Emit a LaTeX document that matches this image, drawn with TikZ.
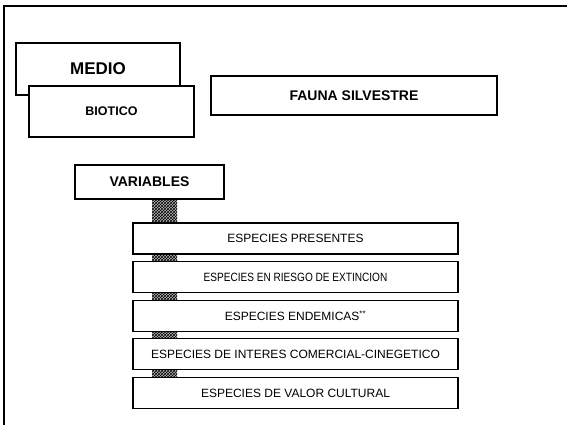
\documentclass[tikz,border=0pt]{standalone}
\usepackage{fontspec}
\setmainfont{Liberation Sans}
\usetikzlibrary{positioning,patterns,backgrounds,calc}

\begin{document}
\begin{tikzpicture}[
    x=1pt, y=-1pt,
    node distance=6.5pt and 6.5pt,
    box/.style={draw, line width=1.1pt, fill=white, inner sep=0pt},
    item/.style={draw, line width=1.1pt, fill=white, inner sep=0pt, minimum width=325pt, minimum height=31pt, font=\fontsize{12}{14}\selectfont},
    link/.style={fill=gray!55, postaction={pattern=crosshatch, pattern color=black}}
  ]
    \useasboundingbox (0,0) rectangle (567,425);
    \draw[line width=2pt] (4,425) -- (4,6) -- (567,6);
    \node[box, minimum width=164pt, minimum height=52pt, font=\bfseries\fontsize{17}{20}\selectfont] (medio) at (98,69) {MEDIO};
    \node[box, minimum width=165pt, minimum height=51pt, font=\bfseries\fontsize{12.5}{15}\selectfont] (biotico) at (111.5,111.5) {BIOTICO};
    \node[box, minimum width=286pt, minimum height=39pt, font=\bfseries\fontsize{14}{16}\selectfont] (fauna) at (354,95.5) {FAUNA SILVESTRE};
    \node[box, minimum width=149pt, minimum height=34pt, font=\bfseries\fontsize{14}{16}\selectfont] (variables) at (149.5,182) {VARIABLES};
    \node[item] (e1) at (295.5,238.5) {ESPECIES PRESENTES};
    \node[item, below=of e1] (e2) {\scalebox{0.84}[1]{ESPECIES EN RIESGO DE EXTINCION}};
    \node[item, below=of e2] (e3) {ESPECIES ENDEMICAS\textsuperscript{**}};
    \node[item, below=of e3] (e4) {ESPECIES DE INTERES COMERCIAL-CINEGETICO};
    \node[item, below=of e4] (e5) {ESPECIES DE VALOR CULTURAL};
    \begin{scope}[on background layer]
      \path[link] ($(variables.south)+(2.5,0)$) rectangle ($(variables.south |- e5.north)+(27.5,0)$);
    \end{scope}
  \end{tikzpicture}
\end{document}
